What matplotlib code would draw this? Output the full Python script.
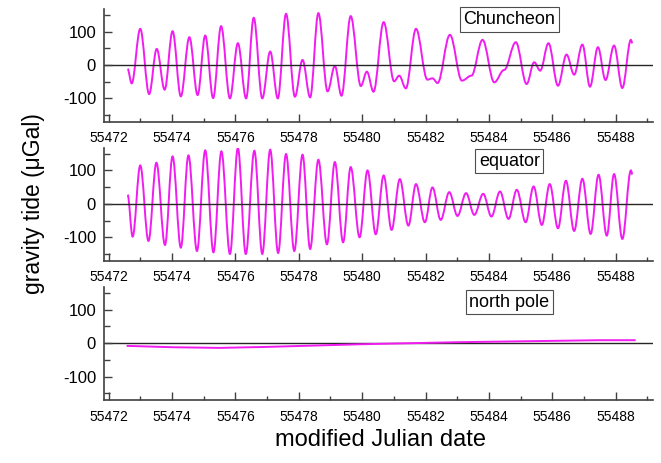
import numpy as np
import matplotlib
matplotlib.use("Agg")
import matplotlib.pyplot as plt
from matplotlib.path import Path
from matplotlib.patches import PathPatch
from matplotlib.ticker import MultipleLocator

plt.rcParams["font.family"] = ["Liberation Sans", "DejaVu Sans"]
plt.rcParams["axes.unicode_minus"] = False

# extrema (MJD, µGal), one entry per turning point
chun_t = [55472.60, 55472.73, 55473.00, 55473.28, 55473.52, 55473.77, 55474.02,
          55474.28, 55474.55, 55474.81, 55475.05, 55475.30, 55475.55, 55475.83,
          55476.08, 55476.34, 55476.58, 55476.85, 55477.10, 55477.34, 55477.60,
          55477.88, 55478.12, 55478.36, 55478.62, 55478.91, 55479.14, 55479.35,
          55479.64, 55479.96, 55480.15, 55480.36, 55480.68, 55481.01, 55481.17,
          55481.38, 55481.70, 55482.06, 55482.22, 55482.38, 55482.77, 55483.15,
          55483.45, 55483.80, 55484.17, 55484.48, 55484.85, 55485.19, 55485.43,
          55485.62, 55485.88, 55486.18, 55486.45, 55486.69, 55486.95, 55487.19,
          55487.44, 55487.68, 55487.95, 55488.21, 55488.48, 55488.53]
chun_g = [-12, -55, 108, -87, 48, -74, 101, -94, 83, -90, 88, -99, 116, -100,
          65, -100, 141, -100, 40, -100, 153, -95, 15, -97, 155, -79, -3, -92,
          146, -63, -20, -80, 128, -49, -32, -70, 108, -44, -40, -54, 90, -47,
          -32, 75, -52, -15, 68, -57, 8, -17, 65, -62, 31, -29, 61, -65, 53,
          -45, 58, -69, 75, 65]

equa_t = [55472.60, 55472.76, 55473.00, 55473.26, 55473.51, 55473.78, 55474.02,
          55474.28, 55474.52, 55474.79, 55475.05, 55475.31, 55475.56, 55475.83,
          55476.08, 55476.33, 55476.60, 55476.85, 55477.10, 55477.35, 55477.60,
          55477.86, 55478.12, 55478.36, 55478.62, 55478.89, 55479.14, 55479.40,
          55479.64, 55479.92, 55480.17, 55480.43, 55480.68, 55480.93, 55481.19,
          55481.46, 55481.70, 55481.98, 55482.22, 55482.48, 55482.75, 55483.01,
          55483.28, 55483.54, 55483.82, 55484.08, 55484.35, 55484.62, 55484.88,
          55485.16, 55485.41, 55485.67, 55485.92, 55486.18, 55486.43, 55486.69,
          55486.95, 55487.21, 55487.46, 55487.72, 55487.95, 55488.21, 55488.48,
          55488.53]
equa_g = [27, -98, 115, -111, 123, -123, 142, -131, 145, -141, 160, -145, 157,
          -150, 167, -150, 159, -150, 162, -147, 149, -141, 147, -135, 132, -121,
          125, -115, 110, -100, 100, -91, 85, -78, 74, -65, 59, -55, 49, -48, 35,
          -36, 32, -33, 30, -38, 37, -45, 42, -55, 52, -63, 59, -73, 69, -81, 75,
          -90, 87, -95, 89, -105, 100, 88]

pole_t = [55472.6, 55474.0, 55475.5, 55477.0, 55478.5, 55480.0, 55481.5,
          55483.0, 55484.5, 55486.0, 55487.5, 55488.6]
pole_g = [-8, -12, -14, -11, -7, -3, 0, 3, 5, 7, 9, 9]

labels = ["Chuncheon", "equator", "north pole"]
MAG = "#f01cf0"


def turning_point_path(xs, ys, k=0.36):
    # cubic Bezier between successive turning points, flat at each one
    verts = [(xs[0], ys[0])]
    codes = [Path.MOVETO]
    for i in range(len(xs) - 1):
        dx = xs[i + 1] - xs[i]
        verts += [(xs[i] + k * dx, ys[i]), (xs[i + 1] - k * dx, ys[i + 1]),
                  (xs[i + 1], ys[i + 1])]
        codes += [Path.CURVE4] * 3
    return Path(verts, codes)


fig = plt.figure(figsize=(6.61, 4.63), dpi=100)
bottoms = [0.737, 0.437, 0.136]
axes = [fig.add_axes([0.158, b, 0.830, 0.244]) for b in bottoms]

for i, ax in enumerate(axes):
    if i == 0:
        ax.add_patch(PathPatch(turning_point_path(chun_t, chun_g), fill=False,
                               edgecolor=MAG, lw=1.4))
    elif i == 1:
        ax.add_patch(PathPatch(turning_point_path(equa_t, equa_g), fill=False,
                               edgecolor=MAG, lw=1.4))
    else:
        ax.plot(pole_t, pole_g, color=MAG, lw=1.4)
    ax.axhline(0, color="0.15", lw=1.0, zorder=1)
    ax.set_xlim(55471.87, 55489.18)
    ax.set_ylim(-170, 168)
    ax.xaxis.set_major_locator(MultipleLocator(2))
    ax.xaxis.set_minor_locator(MultipleLocator(1))
    ax.yaxis.set_major_locator(MultipleLocator(100))
    ax.yaxis.set_minor_locator(MultipleLocator(50))
    ax.xaxis.get_major_formatter().set_useOffset(False)
    for s in ("top", "right"):
        ax.spines[s].set_visible(False)
    for s in ("left", "bottom"):
        ax.spines[s].set_color("0.25")
        ax.spines[s].set_linewidth(1.2)
    ax.tick_params(which="both", direction="in", color="0.25", width=1.0)
    ax.tick_params(axis="x", which="major", length=6, labelsize=10, pad=7)
    ax.tick_params(axis="x", which="minor", length=3)
    ax.tick_params(axis="y", which="major", length=6, labelsize=12, pad=6)
    ax.tick_params(axis="y", which="minor", length=4)
    ax.text(0.738, [0.905, 0.88, 0.866][i], labels[i], transform=ax.transAxes,
            ha="center", va="center", fontsize=13,
            bbox=dict(boxstyle="square,pad=0.2", fc="white", ec="0.3", lw=0.8))

fig.text(0.05, 0.56, "gravity tide (\u03bcGal)", rotation=90, ha="center",
         va="center", fontsize=16.5)
fig.text(0.575, 0.05, "modified Julian date", ha="center", va="center",
         fontsize=17)

fig.savefig("out.png", dpi=100)
